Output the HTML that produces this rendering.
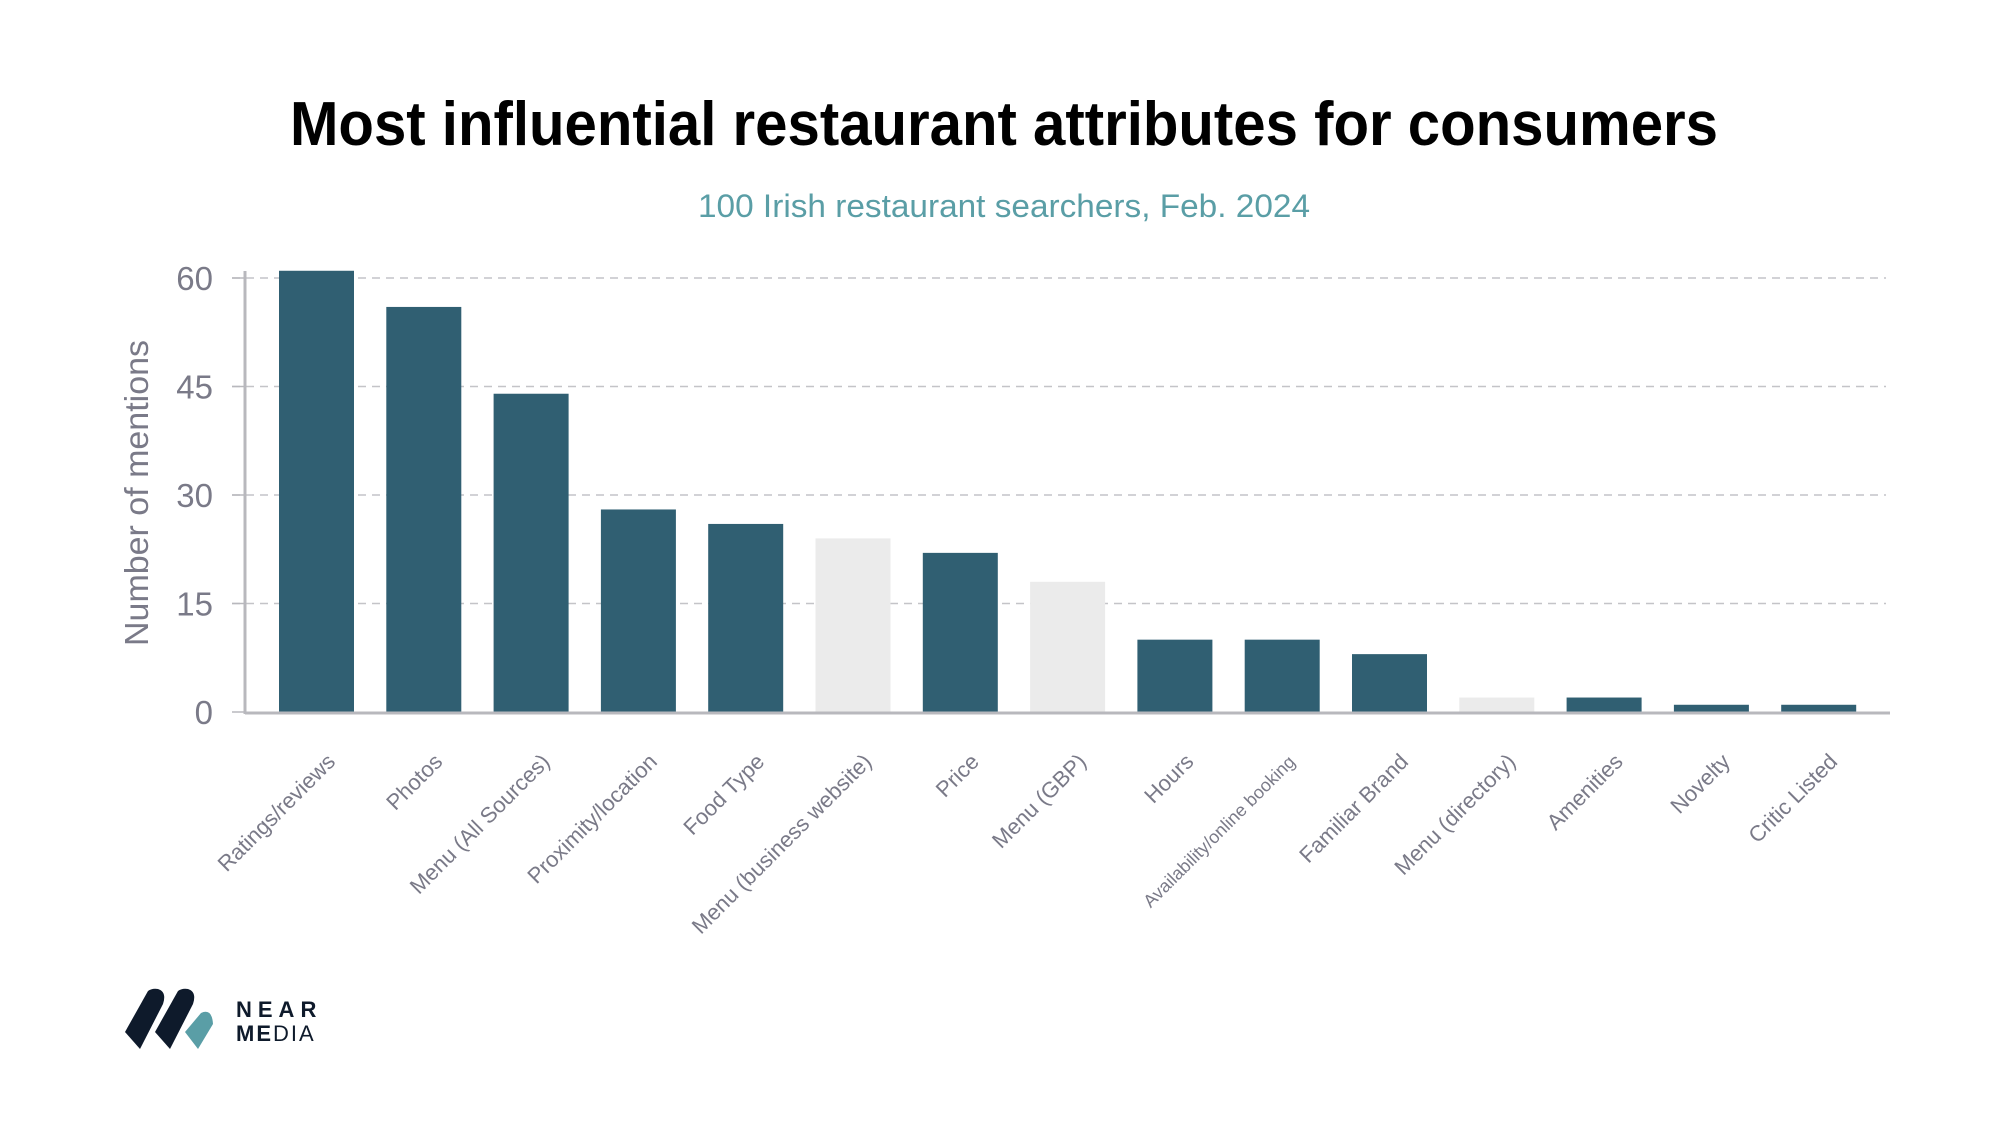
<!DOCTYPE html>
<html><head><meta charset="utf-8"><style>
html,body{margin:0;padding:0;background:#fff;}
svg{display:block;}
</style></head><body>
<svg width="2000" height="1125" viewBox="0 0 2000 1125" xmlns="http://www.w3.org/2000/svg">
<rect width="2000" height="1125" fill="#fff"/>
<text x="1004" y="145" text-anchor="middle" font-family="'Liberation Sans',sans-serif" font-weight="bold" font-size="62" fill="#000" textLength="1428" lengthAdjust="spacingAndGlyphs">Most influential restaurant attributes for consumers</text>
<text x="1004" y="217" text-anchor="middle" font-family="'Liberation Sans',sans-serif" font-size="32" fill="#5a9ea6" textLength="612" lengthAdjust="spacingAndGlyphs">100 Irish restaurant searchers, Feb. 2024</text>
<g id="grid"></g>
<g id="bars"></g>
<g id="xlabels"></g>
<text transform="translate(148,493) rotate(-90)" text-anchor="middle" font-family="'Liberation Sans',sans-serif" font-size="33" fill="#7a7a88" textLength="306" lengthAdjust="spacingAndGlyphs">Number of mentions</text>
<g>
<path d="M125,1032 L148,991 Q152,988 158,989 Q167,992 163,1004 L140,1049 Z" fill="#0e1a2b"/>
<path d="M155,1032 L178,991 Q182,988 188,989 Q197,992 193,1004 L170,1049 Z" fill="#0e1a2b"/>
<path d="M185,1032 L201,1013 Q212,1008 213,1024 L198,1049 Z" fill="#5a9ea6"/>
<text x="236" y="1017" font-family="'Liberation Sans',sans-serif" font-weight="bold" font-size="22" letter-spacing="6" fill="#0e1a2b">NEAR</text>
<text x="236" y="1041" font-family="'Liberation Sans',sans-serif" font-size="22" letter-spacing="2" fill="#0e1a2b"><tspan font-weight="bold">ME</tspan>DIA</text>
</g>
</svg>
<script>
const categories=["Ratings/reviews","Photos","Menu (All Sources)","Proximity/location","Food Type","Menu (business website)","Price","Menu (GBP)","Hours","Availability/online booking","Familiar Brand","Menu (directory)","Amenities","Novelty","Critic Listed"];
const values=[61,56,44,28,26,24,22,18,10,10,8,2,2,1,1];
const highlighted=[true,true,true,true,true,false,true,false,true,true,true,false,true,true,true];
const yTicks=[0,15,30,45,60];
const NS="http://www.w3.org/2000/svg";
const y0=712, pxPerUnit=(712-278)/60;
function yScale(v){return y0-v*pxPerUnit;}
function xScale(i){return 279+i*107.3;}
const bw=75;
function mk(tag,attrs,parent){const e=document.createElementNS(NS,tag);for(const k in attrs)e.setAttribute(k,attrs[k]);parent.appendChild(e);return e;}
const grid=document.getElementById('grid');
yTicks.forEach(t=>{
  const y=yScale(t);
  if(t>0){const l=mk('line',{x1:232,x2:1886,y1:y,y2:y,stroke:'#c4c4c8','stroke-width':1.5,'stroke-dasharray':'8,6'},grid);
  
  }
  const tk=mk('line',{x1:232,x2:245,y1:y,y2:y,stroke:'#b8b8bd','stroke-width':1.5},grid);
  
  
  const tx=mk('text',{x:213,y:y+12,'text-anchor':'end','font-family':"'Liberation Sans',sans-serif",'font-size':33,fill:'#7a7a88'},grid);
  tx.textContent=t;
  
  
});
const bars=document.getElementById('bars');
values.forEach((v,i)=>{
  const r=mk('rect',{x:xScale(i),y:yScale(v),width:bw,height:y0-yScale(v),fill:highlighted[i]?'#305f72':'#ebebeb'},bars);
  
  
});
const ax=mk('line',{x1:245,x2:1890,y1:713,y2:713,stroke:'#b8b8bd','stroke-width':3},bars);


const ay=mk('line',{x1:245,x2:245,y1:271,y2:714,stroke:'#b8b8bd','stroke-width':3},bars);


const xl=document.getElementById('xlabels');
categories.forEach((c,i)=>{
  const small=c.length>25;
  const ex=xScale(i)+bw/2+(small?14:20), ey=763;
  const t=mk('text',{transform:`translate(${ex},${ey}) rotate(-45)`,'text-anchor':'end','font-family':"'Liberation Sans',sans-serif",'font-size':small?18:22,fill:'#7a7a88'},xl);
  t.textContent=c;
  
  
});
</script>
</body></html>
